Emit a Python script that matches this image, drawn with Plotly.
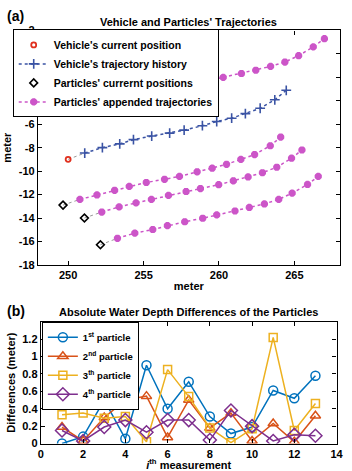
import plotly.graph_objects as go

# ---------------- data: top panel ----------------
veh_cur_x = [250.0]
veh_cur_y = [-9.0]

veh_hist_x = [251.1, 252.27, 253.42, 254.33, 255.54, 256.73, 257.69, 258.9, 259.85, 260.84, 261.75, 262.73, 263.7, 264.46]
veh_hist_y = [-8.46, -8.0, -7.68, -7.32, -7.01, -6.76, -6.51, -6.13, -5.77, -5.49, -5.1, -4.64, -3.92, -3.11]

part_cur_x = [252.56, 249.66, 251.08, 252.14]
part_cur_y = [-4.52, -12.9, -14.0, -16.28]

traj1_x = [253.7, 254.83, 255.95, 257.05, 258.1, 259.2, 260.28, 261.49, 262.44, 263.42, 264.37, 265.28, 266.25, 266.99]
traj1_y = [-4.02, -3.61, -3.25, -2.95, -2.65, -2.33, -2.01, -1.68, -1.4, -1.07, -0.7, -0.16, 0.59, 1.29]
traj2_x = [250.78, 251.91, 253.08, 254.05, 255.18, 256.39, 257.38, 258.55, 259.55, 260.5, 261.45, 262.36, 263.4, 264.09]
traj2_y = [-12.41, -12.03, -11.64, -11.3, -10.97, -10.7, -10.45, -10.06, -9.75, -9.42, -9.0, -8.59, -7.84, -7.1]
traj3_x = [252.23, 253.38, 254.5, 255.52, 256.65, 257.82, 258.77, 259.98, 260.95, 261.93, 262.88, 263.83, 264.81, 265.5]
traj3_y = [-13.49, -13.05, -12.71, -12.41, -12.07, -11.74, -11.49, -11.16, -10.83, -10.5, -10.14, -9.67, -8.9, -8.2]
traj4_x = [253.27, 254.42, 255.61, 256.58, 257.73, 258.92, 259.85, 261.06, 262.01, 263.01, 263.96, 264.85, 265.87, 266.58]
traj4_y = [-15.73, -15.29, -14.98, -14.65, -14.32, -14.02, -13.73, -13.4, -13.1, -12.8, -12.41, -11.88, -11.14, -10.45]

top_xticks = [250, 255, 260, 265]
top_yticks = [-18, -16, -14, -12, -10, -8, -6, -4, -2, 0, 2]
top_yticklabels = ["-18", "-16", "-14", "-12", "-10", "-8", "-6", "-4", "-2", "0", "2"]

# ---------------- data: bottom panel ----------------
meas = [1, 2, 3, 4, 5, 6, 7, 8, 9, 10, 11, 12, 13]
p1 = [0.0, 0.08, 0.5, 0.055, 0.9, 0.4, 0.71, 0.31, 0.115, 0.19, 0.61, 0.52, 0.78]
p2 = [0.19, 0.03, 0.3, 0.5, 0.545, 0.07, 0.5, 0.18, 0.35, 0.03, 0.23, 0.02, 0.32]
p3 = [0.33, 0.35, 0.29, 0.31, 0.02, 0.85, 0.54, 0.18, 0.01, 0.17, 1.22, 0.15, 0.46]
p4 = [0.15, 0.03, 0.19, 0.27, 0.13, 0.27, 0.27, 0.04, 0.38, 0.2, 0.03, 0.1, 0.09]
bot_names = ["1<sup>st</sup> particle", "2<sup>nd</sup> particle", "3<sup>th</sup> particle", "4<sup>th</sup> particle"]
bot_xticks = [0, 2, 4, 6, 8, 10, 12, 14]
bot_yticks = [0, 0.2, 0.4, 0.6, 0.8, 1.0, 1.2]
bot_yticklabels = ["0", "0.2", "0.4", "0.6", "0.8", "1", "1.2"]

W, H = 352, 471
FONT = "Liberation Sans"

fig = go.Figure()

# grey dotted connectors (current position -> first trajectory point)
grey = dict(color="#999999", width=1, dash="dot")
fig.add_trace(go.Scatter(x=[veh_cur_x[0], veh_hist_x[0]], y=[veh_cur_y[0], veh_hist_y[0]],
                         mode="lines", line=grey, showlegend=False, hoverinfo="skip"))
for (cx, cy, tx, ty) in zip(part_cur_x, part_cur_y,
                            [traj1_x, traj2_x, traj3_x, traj4_x],
                            [traj1_y, traj2_y, traj3_y, traj4_y]):
    fig.add_trace(go.Scatter(x=[cx, tx[0]], y=[cy, ty[0]], mode="lines", line=grey,
                             showlegend=False, hoverinfo="skip"))

fig.add_trace(go.Scatter(x=veh_cur_x, y=veh_cur_y, mode="markers", name="Vehicle's current position",
                         marker=dict(symbol="circle-open", size=5, color="#e0301e", line=dict(width=1.8))))
fig.add_trace(go.Scatter(x=veh_hist_x, y=veh_hist_y, mode="lines+markers", name="Vehicle's trajectory history",
                         line=dict(color="#3a53a4", width=1.5, dash="dot"),
                         marker=dict(symbol="cross-thin-open", size=7, color="#3a53a4", line=dict(width=1.6, color="#3a53a4"))))
fig.add_trace(go.Scatter(x=part_cur_x, y=part_cur_y, mode="markers", name="Particles' currernt positions",
                         marker=dict(symbol="diamond-open", size=6, color="black", line=dict(width=1.6))))
mag = "#cc55c8"
for i, (tx, ty) in enumerate(zip([traj1_x, traj2_x, traj3_x, traj4_x], [traj1_y, traj2_y, traj3_y, traj4_y])):
    fig.add_trace(go.Scatter(x=tx, y=ty, mode="lines+markers", name="Particles' appended trajectories",
                             legendgroup="app", showlegend=(i == 0),
                             line=dict(color=mag, width=1.5, dash="dot"),
                             marker=dict(symbol="asterisk-open", size=6, color=mag, line=dict(width=2.6, color=mag))))

cols = ["#0072BD", "#D95319", "#EDB120", "#7E2F8E"]
syms = ["circle-open", "triangle-up-open", "square-open", "diamond-open"]
sizes = [9, 9, 8, 10]
for vals, nm, c, s, sz in zip([p1, p2, p3, p4], bot_names, cols, syms, sizes):
    fig.add_trace(go.Scatter(x=meas, y=vals, mode="lines+markers", name=nm, xaxis="x2", yaxis="y2",
                             legend="legend2", line=dict(color=c, width=1.5),
                             marker=dict(symbol=s, size=sz, color=c, line=dict(width=1.5, color=c))))

axis_common = dict(showline=True, linecolor="black", linewidth=1.3, mirror="ticks", ticks="inside",
                   ticklen=4, tickwidth=1, tickcolor="black", showgrid=False, zeroline=False,
                   tickfont=dict(family=FONT, size=11, color="black", weight="bold"))

fig.update_layout(
    width=W, height=H, margin=dict(l=0, r=0, t=0, b=0),
    paper_bgcolor="white", plot_bgcolor="white",
    font=dict(family=FONT, size=11, color="black", weight="bold"),
    xaxis=dict(domain=[36 / W, 346.5 / W], range=[248, 268], tickvals=top_xticks, anchor="y",
               title=dict(text="meter", standoff=2, font=dict(size=11, weight="bold")), **axis_common),
    yaxis=dict(domain=[1 - 265.7 / H, 1 - 25 / H], range=[-18, 2], tickvals=top_yticks,
               ticktext=top_yticklabels, anchor="x",
               title=dict(text="meter", standoff=4, font=dict(size=11, weight="bold")), **axis_common),
    xaxis2=dict(domain=[39 / W, 343.3 / W], range=[0, 14], tickvals=bot_xticks, anchor="y2",
                title=dict(text="<i>i</i><sup>th</sup> measurement", standoff=2, font=dict(size=11, weight="bold")),
                **axis_common),
    yaxis2=dict(domain=[1 - 449 / H, 1 - 324 / H], range=[0, 1.4], tickvals=bot_yticks,
                ticktext=bot_yticklabels, anchor="x2",
                title=dict(text="Differences (meter)", standoff=4, font=dict(size=11, weight="bold")),
                **axis_common),
    legend=dict(x=10 / W, y=1 - 24 / H, xanchor="left", yanchor="top", bgcolor="white",
                bordercolor="black", borderwidth=1, font=dict(family=FONT, size=10.5, weight="bold"),
                tracegroupgap=0, itemwidth=30),
    legend2=dict(x=40 / W, y=1 - 324 / H, xanchor="left", yanchor="top", bgcolor="white",
                 bordercolor="black", borderwidth=1, font=dict(family=FONT, size=9.5, weight="bold"),
                 tracegroupgap=0, itemwidth=30),
    annotations=[
        dict(text="Vehicle and Particles' Trajectories", x=191 / W, y=1 - 16 / H, xref="paper", yref="paper",
             xanchor="center", yanchor="middle", showarrow=False, font=dict(size=11, weight="bold")),
        dict(text="Absolute Water Depth Differences of the Particles", x=191 / W, y=1 - 314 / H,
             xref="paper", yref="paper", xanchor="center", yanchor="middle",
             showarrow=False, font=dict(size=11, weight="bold")),
        dict(text="(a)", x=2 / W, y=1 - 10 / H, xref="paper", yref="paper", xanchor="left", yanchor="middle",
             showarrow=False, font=dict(size=14, weight="bold")),
        dict(text="(b)", x=2 / W, y=1 - 313 / H, xref="paper", yref="paper", xanchor="left", yanchor="middle",
             showarrow=False, font=dict(size=14, weight="bold")),
    ],
)

fig.write_html("out.html")
